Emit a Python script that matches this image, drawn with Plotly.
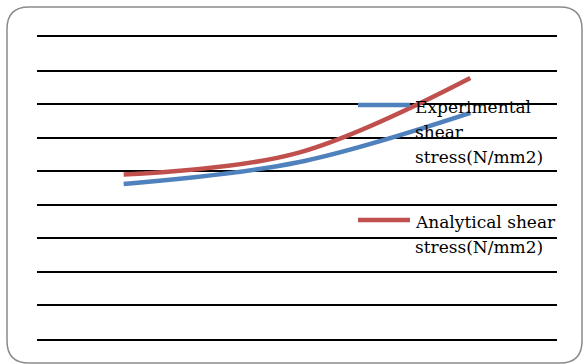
import plotly.graph_objects as go

# Shear stress comparison over three test cases
cases = ["1", "2", "3"]
experimental = [2.31, 2.63, 3.37]
analytical = [2.45, 2.77, 3.89]
series_names = ["Experimental<br>shear<br>stress(N/mm2)", "Analytical shear<br>stress(N/mm2)"]
colors = ["#4F81BD", "#C0504D"]

W, H = 585, 364
L, R, T, B = 37, 28, 37, 25
pw, ph = W - L - R, H - T - B


def px(x):
    return (x - L) / pw


def py(y):
    return (H - B - y) / ph


fig = go.Figure()
for vals, color in zip([experimental, analytical], colors):
    fig.add_trace(go.Scatter(
        x=cases, y=vals, mode="lines",
        line=dict(color=color, width=4.5, shape="spline", smoothing=1.0),
        showlegend=False, hoverinfo="skip",
    ))

shapes = []
# rounded outer frame
x0, y0, x1, y1, r = 7, 7, 582, 363, 22
path = (
    f"M {px(x0 + r)} {py(y0)} L {px(x1 - r)} {py(y0)} "
    f"Q {px(x1)} {py(y0)} {px(x1)} {py(y0 + r)} "
    f"L {px(x1)} {py(y1 - r)} Q {px(x1)} {py(y1)} {px(x1 - r)} {py(y1)} "
    f"L {px(x0 + r)} {py(y1)} Q {px(x0)} {py(y1)} {px(x0)} {py(y1 - r)} "
    f"L {px(x0)} {py(y0 + r)} Q {px(x0)} {py(y0)} {px(x0 + r)} {py(y0)} Z"
)
shapes.append(dict(type="path", path=path, xref="paper", yref="paper",
                   line=dict(color="#8a8a8a", width=1.5), layer="below"))

# legend keys and labels (one annotation per text line for Office-like spacing)
annotations = []
legend_rows = [105, 220]
line_gap = 25
for name, color, yy in zip(series_names, colors, legend_rows):
    shapes.append(dict(type="line", xref="paper", yref="paper",
                       x0=px(358), x1=px(410), y0=py(yy), y1=py(yy),
                       line=dict(color=color, width=4.5)))
    for i, part in enumerate(name.split("<br>")):
        annotations.append(dict(
            text=part, xref="paper", yref="paper", x=px(413),
            y=py(yy + 2 + i * line_gap),
            xanchor="left", yanchor="middle", showarrow=False, align="left",
            font=dict(family="DejaVu Serif", size=17, color="#000000"),
        ))

fig.update_layout(
    width=W, height=H,
    margin=dict(l=L, r=R, t=T, b=B),
    paper_bgcolor="white", plot_bgcolor="white",
    shapes=shapes, annotations=annotations,
    xaxis=dict(range=[-0.5, 2.5], showgrid=False, showticklabels=False, ticks="",
               showline=True, mirror=True, linecolor="black", linewidth=2,
               zeroline=False),
    yaxis=dict(range=[0, 4.5], dtick=0.5, showgrid=True, gridcolor="black",
               gridwidth=2, showticklabels=False, ticks="", zeroline=False,
               showline=False),
)

fig.write_html("out.html")
